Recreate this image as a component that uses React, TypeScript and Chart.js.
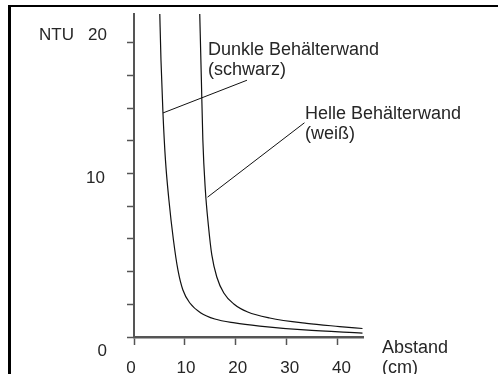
import React, { useEffect, useRef } from "react";
import { Chart, registerables } from "chart.js";

Chart.register(...registerables);

// Dunkle Behälterwand (schwarz) — distance (cm) vs NTU
const darkX = [5.05, 5.3, 5.69, 6.18, 6.86, 7.75, 8.63, 9.61, 10.98, 13.14, 15.88, 19.8, 24.7, 33.5, 44.9];
const darkY = [20.0, 16.94, 13.7, 10.83, 8.38, 5.93, 4.1, 2.87, 2.08, 1.47, 1.1, 0.86, 0.67, 0.43, 0.24];

// Helle Behälterwand (weiß)
const lightX = [12.9, 13.24, 13.53, 14.02, 14.61, 15.29, 16.27, 17.65, 19.61, 22.35, 26.67, 33.92, 40.39, 44.9];
const lightY = [20.0, 15.72, 12.05, 8.99, 6.85, 5.02, 3.67, 2.69, 2.02, 1.53, 1.16, 0.83, 0.64, 0.52];

// pointer lines for the annotations
const darkPointerX = [5.7, 22.2];
const darkPointerY = [13.7, 15.7];
const lightPointerX = [14.45, 33.5];
const lightPointerY = [8.55, 13.1];

const xTickValues = [0, 10, 20, 30, 40];
const xTickLabels = ["0", "10", "20", "30", "40"];
const yTickLabels = ["20", "10", "0"];

const darkLabel = ["Dunkle Behälterwand", "(schwarz)"];
const lightLabel = ["Helle Behälterwand", "(weiß)"];
const xTitle = ["Abstand", "(cm)"];
const yTitle = "NTU";

const FONT = '"Liberation Sans", Arial, Helvetica, sans-serif';
const TEXT = "#262626";

const toPts = (xs: number[], ys: number[]) => xs.map((x, i) => ({ x, y: ys[i] }));

const textPlugin = {
  id: "texts",
  afterDraw(chart: any) {
    const ctx = chart.ctx;
    const xs = chart.scales.x;
    ctx.save();
    ctx.fillStyle = TEXT;
    ctx.textBaseline = "alphabetic";
    // annotation texts
    ctx.font = `18px ${FONT}`;
    ctx.textAlign = "left";
    ctx.fillText(darkLabel[0], 208, 55);
    ctx.fillText(darkLabel[1], 208, 75);
    ctx.fillText(lightLabel[0], 305, 119);
    ctx.fillText(lightLabel[1], 305, 139);
    // x title
    ctx.fillText(xTitle[0], 382, 353);
    ctx.fillText(xTitle[1], 382, 373);
    // y title and tick labels
    ctx.font = `17px ${FONT}`;
    ctx.fillText(yTitle, 39, 40);
    ctx.textAlign = "right";
    ctx.fillText(yTickLabels[0], 107, 40);
    ctx.fillText(yTickLabels[1], 105, 183);
    ctx.fillText(yTickLabels[2], 107, 356);
    // x tick labels
    ctx.textAlign = "center";
    xTickValues.forEach((v, i) => {
      const px = xs.getPixelForValue(v);
      ctx.fillText(xTickLabels[i], px + (i === 0 ? -3 : i * 1), 373);
    });
    ctx.restore();
  },
};

export default function App() {
  const ref = useRef<HTMLCanvasElement | null>(null);
  useEffect(() => {
    if (!ref.current) return;
    const lineDs = (data: any[], w = 1.2) => ({
      data,
      borderColor: "#111",
      borderWidth: w,
      pointRadius: 0,
      fill: false,
      cubicInterpolationMode: "monotone" as const,
    });
    const chart = new Chart(ref.current, {
      type: "line",
      data: {
        datasets: [
          lineDs(toPts(darkX, darkY)),
          lineDs(toPts(lightX, lightY)),
          { ...lineDs(toPts(darkPointerX, darkPointerY), 1), cubicInterpolationMode: "default" as const },
          { ...lineDs(toPts(lightPointerX, lightPointerY), 1), cubicInterpolationMode: "default" as const },
        ],
      },
      options: {
        animation: false,
        responsive: false,
        maintainAspectRatio: false,
        layout: { padding: { left: 124, top: 14, right: 135, bottom: 27 } },
        plugins: { legend: { display: false }, tooltip: { enabled: false } },
        scales: {
          x: {
            type: "linear",
            min: 0,
            max: 45,
            ticks: { stepSize: 10, display: false },
            afterBuildTicks: (s: any) => {
              s.ticks = s.ticks.filter((t: any) => t.value % 10 === 0);
            },
            afterFit: (s: any) => {
              s.height = 10;
            },
            grid: {
              drawOnChartArea: false,
              drawTicks: true,
              tickLength: 8,
              tickColor: "#555",
              tickWidth: 1.5,
            },
            border: { display: true, color: "#555", width: 2.5 },
          },
          y: {
            type: "linear",
            min: 0,
            max: 19.75,
            ticks: { stepSize: 2, display: false },
            afterBuildTicks: (s: any) => {
              s.ticks = s.ticks.filter((t: any) => t.value % 2 === 0);
            },
            afterFit: (s: any) => {
              s.width = 10;
            },
            grid: {
              drawOnChartArea: false,
              drawTicks: true,
              tickLength: 7,
              tickColor: "#555",
              tickWidth: 1.5,
            },
            border: { display: true, color: "#555", width: 2 },
          },
        },
      },
      plugins: [textPlugin],
    });
    return () => chart.destroy();
  }, []);

  return (
    <div style={{ position: "fixed", left: 0, top: 0, width: 498, height: 374, background: "#fff", overflow: "hidden" }}>
      <div
        style={{
          position: "absolute",
          left: 8,
          top: 5,
          right: -10,
          bottom: -10,
          borderTop: "2px solid #000",
          borderLeft: "3px solid #000",
        }}
      />
      <canvas ref={ref} width={498} height={374} style={{ position: "absolute", left: 0, top: 0, width: 498, height: 374 }} />
    </div>
  );
}
